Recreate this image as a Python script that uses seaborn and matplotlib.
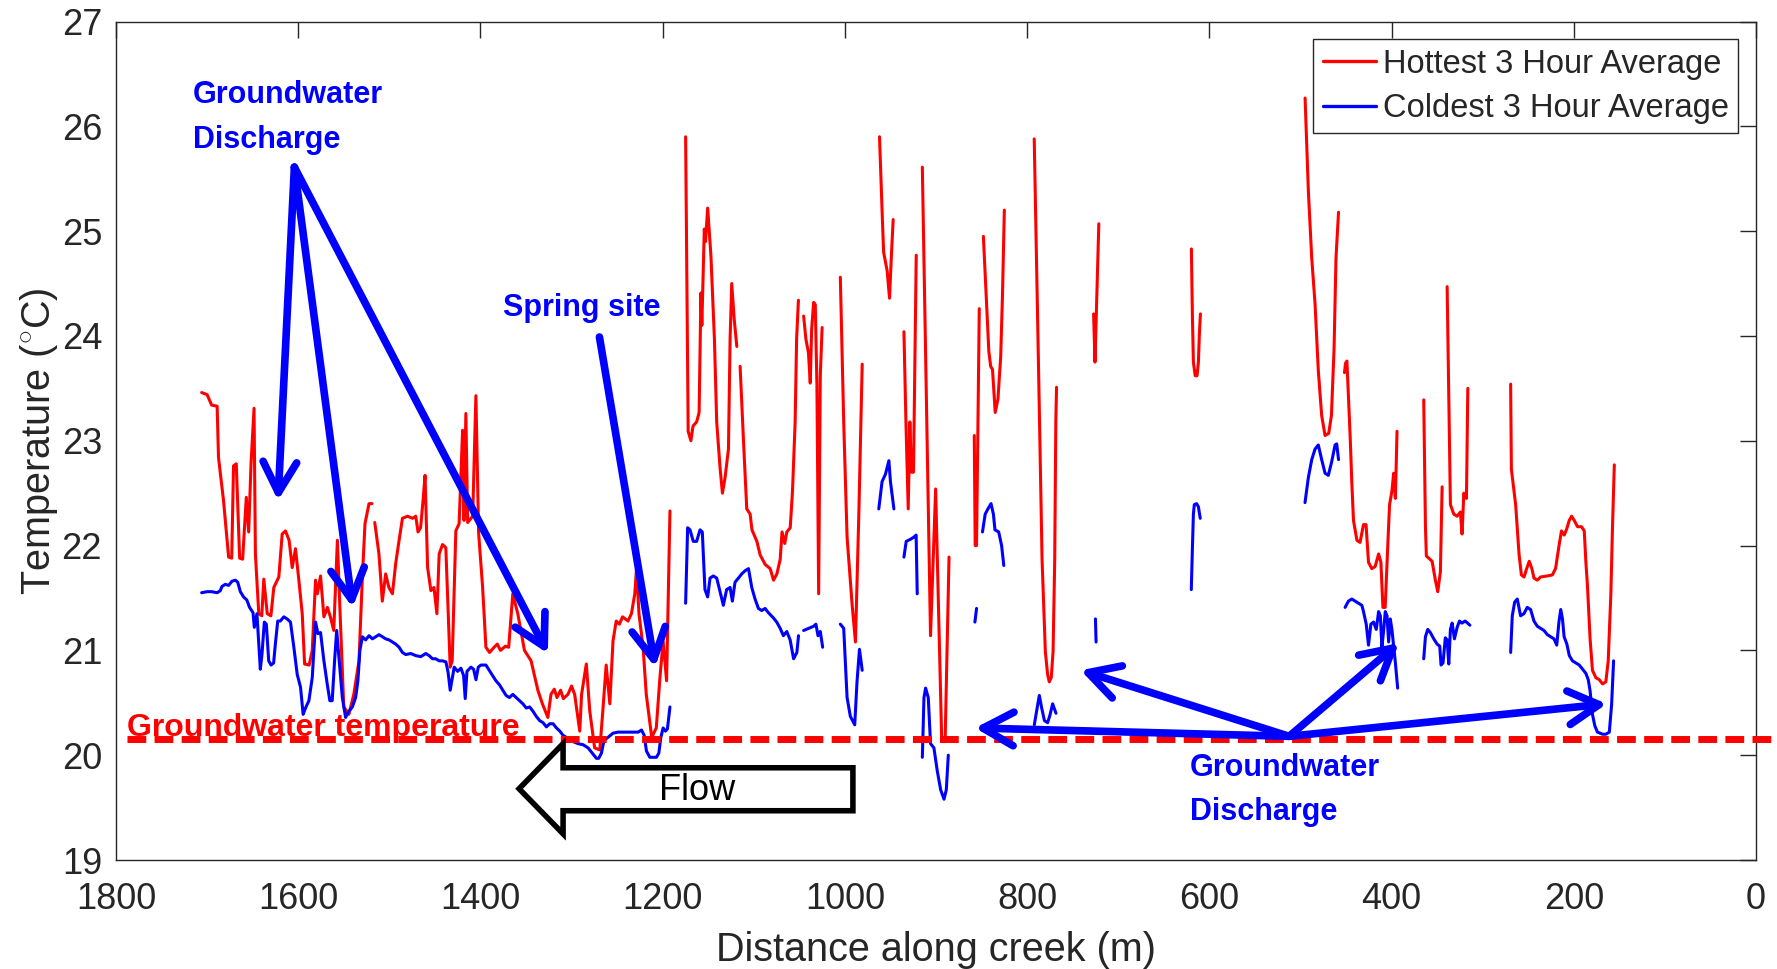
import numpy as np
import pandas as pd
import matplotlib
matplotlib.use("Agg")
import matplotlib.pyplot as plt
import seaborn as sns
from matplotlib.lines import Line2D
from matplotlib.patches import Polygon

# ---------------- data (distance along creek [m], temperature [degC]) ----------------
series_names = ["Hottest 3 Hour Average", "Coldest 3 Hour Average"]
x_ticks = [0, 200, 400, 600, 800, 1000, 1200, 1400, 1600, 1800]
y_ticks = [19, 20, 21, 22, 23, 24, 25, 26, 27]
groundwater_temp = 20.15

# hottest 3-hour average, one sub-list per continuous stretch of the logger record
hot_dist = [
    [1706, 1700, 1695, 1689, 1687.5, 1682, 1676.4, 1673, 1671, 1668, 1664.3, 1661, 1657, 1654.4, 1651.8, 1648.5, 1647,
     1643.3, 1640, 1637.8, 1634, 1630, 1626.8, 1621.3, 1617.6, 1614, 1610, 1606.6, 1603, 1599.3, 1595.6, 1593, 1588,
     1584.6, 1581, 1579, 1575.5, 1571.8, 1568, 1564.7, 1561, 1557, 1554.3, 1550, 1544.4, 1539, 1533.3, 1529.6, 1526.7,
     1522.3, 1519],
    [1516, 1511.4, 1507.7, 1504, 1500.5, 1496.6, 1493, 1489.3, 1485.6, 1480, 1474.5, 1471, 1468.5, 1465.7, 1463, 1460.8,
     1458, 1454.4, 1451, 1447.8, 1445.3, 1441.6, 1438, 1433.2, 1431, 1427, 1423.4, 1419.6, 1418, 1416, 1414, 1408.5,
     1405, 1402, 1397.6, 1394, 1390, 1385, 1381.5, 1378, 1372.6, 1369, 1364.5, 1359, 1351.7, 1344.4, 1337, 1332, 1326,
     1322.6, 1319, 1316, 1312, 1309, 1304, 1300, 1296.6, 1291, 1289, 1283.8, 1280, 1274.7, 1269, 1265.7, 1262, 1258,
     1254.5, 1251, 1247.5, 1244, 1238, 1234.3, 1230.6, 1228.7, 1226, 1221.5, 1218, 1212, 1207, 1203, 1199.5, 1195.7, 1192],
    [1174.8, 1172, 1169, 1166.7, 1162.7, 1160, 1158, 1157, 1154.3, 1153, 1150.6, 1147, 1143.2, 1140.7, 1137, 1134.4,
     1131.5, 1127.8, 1126, 1124.2, 1121.4, 1118.6],
    [1115, 1111.3, 1107.7, 1104, 1102, 1096.6, 1093, 1087.5, 1082, 1078.3, 1074.6, 1071, 1069, 1066, 1063.7, 1060,
     1057.5, 1054.6, 1053, 1051],
    [1045.3, 1042.8, 1040, 1038, 1036.5, 1034.3, 1032.5, 1030.7, 1028.8, 1027, 1025],
    [1005, 1001.3, 997.6, 992, 988.4, 984.7, 981],
    [962, 959, 957.5, 953.6, 951, 949, 947],
    [935.2, 933, 930.5, 928.7, 927, 924.7, 921.7],
    [915, 906, 900.4, 893.7, 890, 885.7],
    [858, 857, 855.5, 852.5],
    [848, 845, 842, 840, 838, 835, 832, 829, 827, 825],
    [792.2, 787.3, 783.6, 780, 777.5, 775.7, 773.5, 771.5, 769.7, 768.5, 767.7],
    [727, 725.5, 721.3],
    [619.7, 618.6, 617.5, 615.5, 613.5, 612, 611, 609.8],
    [494.9, 491.3, 487.6, 484, 480.4, 476.7, 473, 469, 466, 463.1, 461, 458.2],
    [451.7, 450.5, 449, 447.5, 445.4, 443.6, 441.8, 438, 434.6, 430.8, 428, 425.3, 421.7, 418, 414.2, 411.7, 409.5,
     407, 404.3, 402.2, 399.6, 397.7, 395.8, 394],
    [364.7, 362.8, 361.8, 359.2, 355.5, 351.9, 349.3, 346.4, 344.5],
    [339, 335.4, 331.7, 328, 324.5, 322.6, 320.7, 317.8, 316.3],
    [269.3, 268.5, 263.8, 260.1, 257.5, 254.6, 251.7, 248.9, 246, 243.7, 240, 236.5, 229, 223.5, 220, 216, 213.5,
     210.5, 207.7, 205, 202.4, 199.5, 195.9, 191.5, 188.5, 186.7, 185, 182.1, 179.5, 175.8, 172, 168.4, 164.8, 162.2,
     159.3, 157.5, 155.5],
]
hot_temp = [
    [23.46, 23.44, 23.34, 23.33, 22.84, 22.43, 21.89, 21.88, 22.76, 22.78, 21.88, 21.87, 22.46, 22.13, 22.78, 23.31,
     21.92, 21.35, 21.33, 21.68, 21.35, 21.33, 21.60, 21.70, 22.11, 22.14, 22.05, 21.79, 21.97, 21.67, 21.35, 20.87,
     20.86, 21.0, 21.67, 21.54, 21.71, 21.32, 21.41, 21.32, 21.19, 22.05, 21.41, 20.46, 20.39, 20.58, 20.90, 21.70,
     22.21, 22.40, 22.40],
    [22.22, 21.92, 21.47, 21.73, 21.60, 21.54, 21.83, 22.05, 22.26, 22.28, 22.26, 22.28, 22.13, 22.17, 22.43, 22.67,
     21.79, 21.57, 21.60, 21.35, 21.92, 22.01, 21.98, 20.84, 20.90, 22.14, 22.21, 23.10, 22.24, 23.26, 22.22, 22.28,
     23.43, 22.12, 21.60, 21.03, 20.98, 21.03, 21.06, 21.0, 21.04, 21.03, 21.54, 21.35, 21.0, 20.90, 20.62, 20.49,
     20.36, 20.58, 20.63, 20.55, 20.62, 20.54, 20.58, 20.66, 20.58, 20.23, 20.58, 20.87, 20.42, 20.07, 20.05, 20.42,
     20.86, 20.49, 21.09, 21.28, 21.25, 21.32, 21.28, 21.35, 21.54, 21.78, 21.35, 21.03, 20.58, 20.17, 20.26, 20.74,
     21.09, 20.71, 22.33],
    [25.90, 23.09, 23.0, 23.14, 23.18, 23.27, 24.41, 24.10, 25.02, 24.9, 25.22, 24.76, 23.97, 23.18, 22.74, 22.50,
     22.65, 22.92, 23.97, 24.50, 24.15, 23.90],
    [23.71, 23.0, 22.35, 22.30, 22.15, 22.04, 21.91, 21.82, 21.78, 21.67, 21.73, 21.87, 22.13, 22.02, 22.13, 22.17,
     22.52, 23.18, 23.97, 24.34],
    [24.19, 23.97, 23.84, 23.55, 24.06, 24.32, 24.30, 23.53, 21.54, 23.62, 24.08],
    [24.56, 23.18, 22.08, 21.43, 21.08, 22.30, 23.73],
    [25.90, 25.15, 24.80, 24.62, 24.36, 24.76, 25.11],
    [24.04, 23.18, 22.35, 23.18, 22.70, 22.70, 24.77],
    [25.61, 21.14, 22.54, 20.13, 20.13, 21.89],
    [23.05, 22.0, 22.0, 24.26],
    [24.95, 24.4, 23.85, 23.71, 23.68, 23.27, 23.40, 23.8, 24.4, 25.2],
    [25.88, 23.62, 21.87, 20.99, 20.77, 20.70, 20.74, 20.99, 21.87, 23.18, 23.51],
    [24.21, 23.75, 25.07],
    [24.83, 24.2, 23.75, 23.62, 23.62, 23.75, 24.0, 24.21],
    [26.27, 25.38, 24.74, 24.31, 23.67, 23.24, 23.05, 23.07, 23.24, 23.88, 24.74, 25.18],
    [23.65, 23.74, 23.76, 23.46, 23.03, 22.60, 22.24, 22.05, 22.03, 22.20, 22.20, 21.84, 21.78, 21.80, 21.92, 21.84,
     21.41, 21.41, 21.97, 22.39, 22.52, 22.69, 22.45, 23.09],
    [23.39, 22.18, 21.90, 21.88, 21.85, 21.67, 21.56, 21.75, 22.56],
    [24.47, 22.39, 22.30, 22.28, 22.32, 22.11, 22.50, 22.45, 23.50],
    [23.54, 22.73, 22.39, 21.92, 21.72, 21.70, 21.78, 21.85, 21.78, 21.69, 21.67, 21.70, 21.71, 21.72, 21.78, 22.01,
     22.14, 22.10, 22.16, 22.24, 22.28, 22.24, 22.18, 22.18, 22.14, 21.84, 21.62, 21.11, 20.81, 20.74, 20.72, 20.68,
     20.70, 20.90, 21.54, 22.18, 22.77],
]

# coldest 3-hour average
cold_dist = [
    [1706, 1700, 1695, 1689, 1685.5, 1683.7, 1680, 1676.4, 1672.7, 1669, 1666.4, 1663.5, 1660, 1656.4, 1653.4, 1649.6,
     1648.2, 1645.3, 1641.6, 1639.8, 1637.2, 1635, 1632.4, 1629.8, 1627, 1625.1, 1622.5, 1619.6, 1615.8, 1612.2,
     1608.5, 1604.8, 1601.1, 1597.5, 1594.6, 1592, 1588.3, 1584.6, 1581, 1578.4, 1575.5, 1571.8, 1568.2, 1565.3,
     1562.7, 1560.1, 1557.8, 1555.3, 1551.6, 1548, 1544.3, 1540.6, 1537, 1534.5, 1532.3, 1529.6, 1526, 1522.3, 1518.6,
     1515, 1511.3, 1507.6, 1504, 1500.3, 1496.6, 1493, 1489.3, 1485.6, 1482, 1476.5, 1471, 1465.5, 1460, 1456.3,
     1452.7, 1449, 1445.3, 1441.6, 1437.9, 1435.5, 1433.2, 1430.6, 1428.8, 1425, 1421.4, 1418.5, 1416.7, 1414.8,
     1410.4, 1407.5, 1404.9, 1402.4, 1399.5, 1394, 1390.4, 1386.7, 1383, 1379, 1375.5, 1371.8, 1368.2, 1364.5, 1360.8,
     1357.1, 1353.4, 1349.7, 1346, 1342.4, 1338.7, 1335, 1331.3, 1327.6, 1324, 1320.3, 1316.6, 1312.9, 1309.4, 1303.9,
     1298.4, 1292.9, 1287.4, 1281.9, 1276.4, 1272.7, 1270.2, 1267.2, 1264.4, 1260, 1254.5, 1249, 1243.5, 1238, 1232.4,
     1226.9, 1223.2, 1220.3, 1217.8, 1214.1, 1210.4, 1206.8, 1204.2, 1202, 1199.5, 1197, 1194.8, 1192],
    [1174.8, 1172.6, 1170, 1166.4, 1162.7, 1159, 1156.5, 1153.6, 1150.6, 1148, 1144.4, 1140.7, 1137, 1133.4, 1129.8,
     1126, 1123.5, 1120.6, 1116.8, 1113.2, 1109.5, 1105.8, 1102.2, 1098.6, 1094.9, 1091.3, 1087.6, 1084, 1078.5,
     1074.8, 1071, 1067.5, 1063.8, 1060.1, 1056.3, 1052.7, 1050.9],
    [1045.3, 1039.8, 1034.3, 1031.8, 1029.5, 1027, 1024.4],
    [1005, 1001.3, 997.6, 994, 989.2, 986.7, 984, 981],
    [962.8, 959.2, 955.5, 951.7, 950, 946.2],
    [935.2, 932.7, 928, 924.4, 921.8, 920.6],
    [915, 913.2, 911.4, 908.5, 906, 902.3, 898.6, 894.9, 891.2, 888.7, 886.5],
    [857.3, 855.5],
    [849, 846, 843, 839.6, 837, 835.3, 831.2, 828, 825.6],
    [792.1, 789, 786.6, 784, 781, 777.5, 775, 772, 768.3],
    [725, 724.3],
    [619.8, 618.5, 617.5, 616.5, 614, 612, 610],
    [495, 491.3, 487.6, 484, 480.4, 476.7, 473, 469.4, 465.7, 462, 460.2, 458.2],
    [451, 447.3, 443.6, 440, 436.3, 432.6, 430.8, 427.8, 425.3, 422.7, 419.7, 416.8, 414.2, 412.3, 410.6, 408.8, 406.9,
     405, 403.2, 401.4, 399.6, 396, 393.3],
    [364.7, 362.8, 360.3, 357.4, 353.7, 350, 347.1, 345.7, 343.5, 341, 339, 337.2, 335.4, 333.5, 331, 328, 325.4,
     322.8, 319.2, 314],
    [269.3, 267.5, 264.9, 262, 258.4, 254.7, 251.1, 247.4, 243.7, 240, 236.4, 232.7, 229, 225.4, 221.7, 218.7, 216.3,
     214.3, 212.4, 210.6, 207.6, 204.9, 201.4, 197.7, 194, 190.3, 186.7, 184.1, 182.2, 179.5, 176.9, 174, 168.4, 164.8,
     161, 158.5, 156.3],
]
cold_temp = [
    [21.55, 21.56, 21.56, 21.55, 21.57, 21.61, 21.63, 21.62, 21.66, 21.67, 21.65, 21.56, 21.51, 21.48, 21.41, 21.36,
     21.22, 21.35, 20.82, 20.96, 21.27, 21.25, 20.90, 20.86, 20.88, 21.06, 21.28, 21.28, 21.32, 21.30, 21.27, 21.03,
     20.77, 20.65, 20.39, 20.45, 20.52, 20.74, 21.27, 21.16, 21.17, 20.90, 20.68, 20.52, 20.52, 20.90, 21.19, 20.93,
     20.55, 20.36, 20.42, 20.46, 20.55, 20.71, 21.0, 21.13, 21.10, 21.14, 21.11, 21.13, 21.15, 21.13, 21.11, 21.10,
     21.08, 21.06, 21.03, 20.98, 20.96, 20.97, 20.95, 20.94, 20.97, 20.95, 20.92, 20.92, 20.90, 20.90, 20.89, 20.79,
     20.62, 20.75, 20.84, 20.80, 20.83, 20.76, 20.54, 20.80, 20.84, 20.82, 20.72, 20.84, 20.86, 20.86, 20.81, 20.76,
     20.71, 20.67, 20.62, 20.57, 20.55, 20.58, 20.55, 20.52, 20.49, 20.45, 20.46, 20.42, 20.37, 20.33, 20.31, 20.27,
     20.30, 20.30, 20.26, 20.23, 20.19, 20.16, 20.13, 20.11, 20.10, 20.07, 20.01, 19.97, 19.97, 20.02, 20.14, 20.17,
     20.21, 20.22, 20.22, 20.22, 20.22, 20.22, 20.24, 20.19, 20.04, 19.98, 19.98, 19.98, 20.02, 20.17, 20.26, 20.23,
     20.25, 20.46],
    [21.45, 22.17, 22.15, 22.04, 22.04, 22.15, 22.13, 21.58, 21.51, 21.69, 21.71, 21.69, 21.56, 21.43, 21.58, 21.60,
     21.47, 21.65, 21.69, 21.73, 21.76, 21.78, 21.60, 21.49, 21.40, 21.38, 21.40, 21.36, 21.31, 21.27, 21.21, 21.14,
     21.18, 21.10, 20.92, 20.98, 21.14],
    [21.19, 21.21, 21.23, 21.25, 21.14, 21.18, 21.03],
    [21.25, 21.21, 20.55, 20.37, 20.29, 20.70, 21.01, 20.81],
    [22.35, 22.61, 22.68, 22.81, 22.61, 22.35],
    [21.89, 22.04, 22.06, 22.08, 22.10, 21.54],
    [19.98, 20.55, 20.64, 20.55, 20.11, 20.07, 19.85, 19.67, 19.58, 19.67, 20.0],
    [21.27, 21.40],
    [22.13, 22.30, 22.35, 22.40, 22.30, 22.15, 22.13, 22.0, 21.81],
    [20.29, 20.45, 20.57, 20.45, 20.33, 20.31, 20.38, 20.49, 20.40],
    [21.30, 21.08],
    [21.58, 22.0, 22.30, 22.39, 22.40, 22.37, 22.26],
    [22.41, 22.65, 22.82, 22.92, 22.96, 22.82, 22.69, 22.67, 22.80, 22.96, 22.97, 22.82],
    [21.41, 21.47, 21.49, 21.47, 21.45, 21.43, 21.37, 21.25, 21.05, 21.25, 21.27, 21.20, 21.37, 21.33, 21.03, 21.18,
     21.37, 21.33, 21.08, 21.30, 21.20, 20.90, 20.64],
    [20.92, 21.13, 21.20, 21.17, 21.11, 21.06, 21.04, 20.86, 20.88, 21.12, 21.10, 20.87, 21.20, 21.26, 21.11, 21.22,
     21.28, 21.26, 21.28, 21.24],
    [20.98, 21.33, 21.46, 21.49, 21.33, 21.35, 21.41, 21.39, 21.28, 21.23, 21.21, 21.19, 21.15, 21.13, 21.11, 21.05,
     21.27, 21.39, 21.30, 21.13, 21.06, 20.95, 20.90, 20.88, 20.86, 20.82, 20.78, 20.72, 20.62, 20.39, 20.28, 20.22,
     20.20, 20.20, 20.22, 20.48, 20.90],
]


def to_frame(dist_segs, temp_segs, name):
    rows = []
    for k, (ds, ts) in enumerate(zip(dist_segs, temp_segs)):
        n = min(len(ds), len(ts))
        for d, t in zip(ds[:n], ts[:n]):
            rows.append((d, t, name, f"{name}-{k}"))
    return pd.DataFrame(rows, columns=["distance", "temperature", "series", "segment"])


df = pd.concat([to_frame(hot_dist, hot_temp, series_names[0]),
                to_frame(cold_dist, cold_temp, series_names[1])], ignore_index=True)

# ---------------- style ----------------
sns.set_style("white")
plt.rcParams["font.family"] = ["Liberation Sans", "DejaVu Sans"]
plt.rcParams["mathtext.fontset"] = "custom"
plt.rcParams["mathtext.rm"] = "Liberation Sans"
plt.rcParams["mathtext.it"] = "Liberation Sans:italic"

RED = "#FF0000"
BLUE = "#0000FF"
AX_COL = "#262626"
W, H = 1777, 969

fig = plt.figure(figsize=(W / 100, H / 100), dpi=100)
ax = fig.add_axes([116 / W, 1 - 860 / H, (1756 - 116) / W, (860 - 21.5) / H])

sns.lineplot(data=df, x="distance", y="temperature", hue="series", units="segment",
             estimator=None, sort=False, palette={series_names[0]: RED, series_names[1]: BLUE},
             linewidth=2.2, legend=False, ax=ax, zorder=3)

ax.set_xlim(1800, 0)
ax.set_ylim(19, 27)
ax.set_xticks(x_ticks)
ax.set_yticks(y_ticks)
ax.tick_params(direction="in", length=11.5, width=1.0, top=True, right=True,
               labelsize=26, pad=10, colors=AX_COL)
ax.tick_params(axis="x", pad=16)
for sp in ax.spines.values():
    sp.set_color(AX_COL)
    sp.set_linewidth(1.0)
ax.set_xlabel("Distance along creek (m)", fontsize=28.5, color=AX_COL, labelpad=10)
ax.set_ylabel(r"Temperature ($^{\circ}$C)", fontsize=28.5, color=AX_COL, labelpad=1)

# groundwater temperature reference line (extends past the right edge)
ax.plot([1788, -30], [groundwater_temp, groundwater_temp], color=RED, lw=5,
        ls=(0, (2.7, 1.2)), clip_on=False, zorder=4, solid_capstyle="butt", dash_capstyle="butt")
ax.text(1788, 20.185, "Groundwater temperature", color=RED, fontsize=23, fontweight="bold",
        ha="left", va="baseline", zorder=5)

# legend
handles = [Line2D([0], [0], color=RED, lw=2.4), Line2D([0], [0], color=BLUE, lw=2.4)]
leg = ax.legend(handles, series_names, loc="upper right", fontsize=23.5, frameon=True, fancybox=False,
                edgecolor=AX_COL, framealpha=1, borderaxespad=0.55, handlelength=1.65, handletextpad=0.2,
                labelspacing=0.42, borderpad=0.28)
leg.get_frame().set_linewidth(1.0)
leg.set_zorder(10)

# annotations
arrow_kw = dict(arrowstyle="->,head_length=1.0,head_width=0.55", color=BLUE, lw=5.5,
                shrinkA=0, shrinkB=0, mutation_scale=22, capstyle="round", joinstyle="round")

ax.text(1715.5, 26.30, "Groundwater", color=BLUE, fontsize=22, fontweight="bold", ha="left", va="center")
ax.text(1715.5, 25.87, "Discharge", color=BLUE, fontsize=22, fontweight="bold", ha="left", va="center")
apex = (1604.2, 25.61)
for tip in [(1622.2, 22.43), (1540.3, 21.41), (1326.0, 20.97)]:
    ax.annotate("", xy=tip, xytext=apex, arrowprops=arrow_kw, zorder=6)

ax.text(1288.5, 24.27, "Spring site", color=BLUE, fontsize=22, fontweight="bold", ha="center", va="center")
ax.annotate("", xy=(1208.3, 20.84), xytext=(1269.4, 23.99), arrowprops=arrow_kw, zorder=6)

origin = (512.4, 20.18)
for tip in [(857.1, 20.26), (741.3, 20.81), (392.0, 21.07), (163.7, 20.49)]:
    ax.annotate("", xy=tip, xytext=origin, arrowprops=arrow_kw, zorder=6)
ax.text(621, 19.88, "Groundwater", color=BLUE, fontsize=22, fontweight="bold", ha="left", va="center")
ax.text(621, 19.46, "Discharge", color=BLUE, fontsize=22, fontweight="bold", ha="left", va="center")

# flow direction block arrow
tip_d, head_d, end_d = 1357.6, 1309.3, 991.2
flow_poly = Polygon([(tip_d, 19.68), (head_d, 20.11), (head_d, 19.88), (end_d, 19.88),
                     (end_d, 19.47), (head_d, 19.47), (head_d, 19.25)],
                    closed=True, facecolor="white", edgecolor="black", lw=4, joinstyle="miter", zorder=5)
ax.add_patch(flow_poly)
ax.text(1162.2, 19.66, "Flow", color="black", fontsize=26, ha="center", va="center", zorder=6)

fig.savefig("out.png", dpi=100)
